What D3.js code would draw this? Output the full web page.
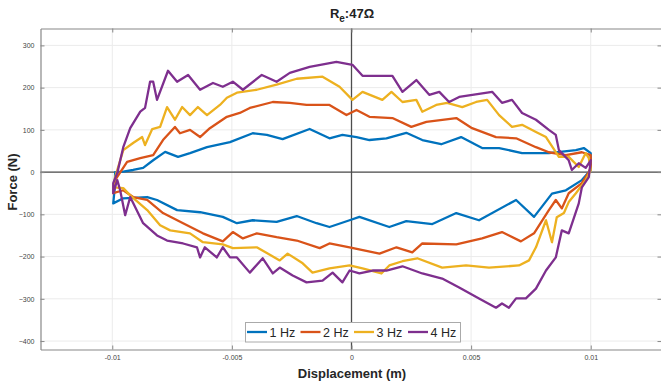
<!DOCTYPE html>
<html>
<head>
<meta charset="utf-8">
<script src="https://cdn.jsdelivr.net/npm/d3@7"></script>
<style>
  html, body { margin: 0; padding: 0; background: #fff; }
  svg { display: block; font-family: "Liberation Sans", Arial, sans-serif; }
</style>
</head>
<body>
<svg id="chart" width="661" height="386"></svg>
<script>
// ---- data (displacement in m, force in N) ----
const seriesNames = ["1 Hz", "2 Hz", "3 Hz", "4 Hz"];
const seriesColors = ["#0072BD", "#D95319", "#EDB120", "#7E2F8E"];
const xTicks = [-0.01, -0.005, 0, 0.005, 0.01];
const xTickLabels = ["-0.01", "-0.005", "0", "0.005", "0.01"];
const yTicks = [-400, -300, -200, -100, 0, 100, 200, 300];

const loop1Hz = [
  [-0.00988,0],[-0.00954,1],[-0.00913,5],[-0.00871,10],[-0.00829,28],[-0.00779,48],[-0.00725,36],[-0.00675,45],
  [-0.00604,59],[-0.00508,71],[-0.00413,92],[-0.00354,88],[-0.00288,78],[-0.00175,102],[-0.00092,80],[-0.00038,88],
  [0.00021,83],[0.00075,76],[0.00146,80],[0.00229,93],[0.00296,76],[0.00375,66],[0.00458,83],[0.00546,57],
  [0.00617,57],[0.00713,45],[0.00825,45],[0.00938,52],[0.00971,57],[0.01,45],[0.01,33],
  [0.01,5],[0.00963,-19],[0.00896,-43],[0.00838,-51],[0.00763,-106],[0.00688,-66],[0.00533,-114],[0.00438,-97],
  [0.00338,-123],[0.00229,-116],[0.00158,-130],[0.00033,-106],[-0.00008,-114],[-0.00092,-130],[-0.00146,-121],
  [-0.00229,-104],[-0.00313,-118],[-0.00413,-114],[-0.00479,-121],[-0.00538,-106],[-0.00633,-95],[-0.00729,-90],
  [-0.00813,-66],[-0.00854,-59],[-0.00954,-62],[-0.00996,-74],[-0.0099,-40],[-0.00988,0]
];
const loop2Hz = [
  [-0.00988,-19],[-0.00938,24],[-0.00883,33],[-0.00829,40],[-0.00788,76],[-0.00738,107],[-0.00717,92],[-0.00675,100],
  [-0.00633,83],[-0.00592,104],[-0.00521,131],[-0.00467,140],[-0.00425,152],[-0.00329,166],[-0.00258,164],
  [-0.00188,159],[-0.00092,159],[-0.00021,135],[0.00021,147],[0.00075,131],[0.00171,128],[0.0025,107],[0.00313,119],
  [0.00438,128],[0.00504,104],[0.00604,83],[0.00688,80],[0.00771,59],[0.00825,47],[0.00896,40],[0.00963,47],
  [0.01,40],[0.01,12],
  [0.00992,0],[0.00963,-26],[0.00908,-50],[0.00879,-86],[0.00854,-66],[0.00825,-90],[0.00763,-145],[0.00708,-164],
  [0.00629,-142],[0.00546,-157],[0.00438,-171],[0.00296,-169],[0.00254,-190],[0.00188,-178],[0.00117,-193],
  [-0.00008,-178],[-0.00092,-169],[-0.00133,-180],[-0.00229,-162],[-0.00313,-154],[-0.00396,-145],[-0.00454,-157],
  [-0.00496,-142],[-0.00538,-164],[-0.00621,-145],[-0.00704,-121],[-0.00788,-97],[-0.00854,-66],[-0.00913,-59],
  [-0.00954,-43],[-0.00996,-50],[-0.00988,-19]
];
const loop3Hz = [
  [-0.00988,-12],[-0.00954,52],[-0.00913,69],[-0.00875,83],[-0.00863,64],[-0.00833,102],[-0.008,107],[-0.00771,154],
  [-0.00738,124],[-0.00708,154],[-0.00675,135],[-0.00642,154],[-0.00604,135],[-0.0055,159],[-0.00521,176],
  [-0.00479,188],[-0.00396,195],[-0.00313,207],[-0.00229,221],[-0.00121,226],[-0.0005,202],[0.00004,171],
  [0.00046,190],[0.00129,171],[0.00167,190],[0.00213,166],[0.00271,171],[0.00296,143],[0.00354,159],[0.004,164],
  [0.00463,154],[0.00521,166],[0.00567,171],[0.00617,135],[0.00671,107],[0.00713,112],[0.00771,95],[0.00813,83],
  [0.00867,36],[0.00908,36],[0.0095,12],[0.00979,45],[0.00992,33],
  [0.01,5],[0.00979,-19],[0.00938,-50],[0.00908,-71],[0.00888,-97],[0.00858,-107],[0.00838,-166],[0.00813,-114],
  [0.00771,-178],[0.00742,-209],[0.007,-221],[0.00575,-226],[0.00479,-221],[0.00379,-226],[0.00275,-204],
  [0.00213,-211],[0.00158,-221],[0.00125,-240],[0.00046,-228],[-0.00008,-221],[-0.00092,-228],[-0.00163,-238],
  [-0.00204,-216],[-0.00267,-193],[-0.003,-209],[-0.00396,-178],[-0.00496,-180],[-0.00538,-171],[-0.00621,-166],
  [-0.00675,-145],[-0.00758,-138],[-0.008,-126],[-0.00854,-90],[-0.00925,-55],[-0.00954,-38],[-0.00996,-36],
  [-0.00988,-12]
];
const loop4Hz = [
  [-0.00996,-26],[-0.00979,-2],[-0.00954,59],[-0.00925,104],[-0.00883,143],[-0.00863,152],[-0.00842,214],
  [-0.00829,214],[-0.00813,171],[-0.00767,240],[-0.00729,214],[-0.00683,230],[-0.00633,195],[-0.00579,211],
  [-0.00538,202],[-0.00496,214],[-0.00454,195],[-0.00375,230],[-0.00313,214],[-0.00258,235],[-0.00175,249],
  [-0.00063,261],[0.00004,254],[0.00046,228],[0.00171,228],[0.00213,190],[0.00271,218],[0.00325,183],[0.00367,190],
  [0.00408,166],[0.0045,178],[0.00588,190],[0.00629,164],[0.00671,171],[0.00713,140],[0.00771,124],[0.00825,100],
  [0.00854,88],[0.00867,52],[0.00908,28],[0.00921,5],[0.0095,21],[0.00979,10],[0.01,28],
  [0.00992,-12],[0.00963,-36],[0.0095,-74],[0.00908,-145],[0.00879,-138],[0.00854,-202],[0.00813,-233],
  [0.00771,-276],[0.00729,-299],[0.00688,-299],[0.00658,-321],[0.00629,-311],[0.00604,-321],[0.00533,-299],
  [0.0045,-273],[0.00379,-252],[0.00296,-240],[0.00213,-223],[0.00146,-233],[0.00088,-233],[0.00033,-240],
  [-0.00008,-233],[-0.00038,-261],[-0.00079,-238],[-0.00121,-257],[-0.00188,-261],[-0.00246,-245],[-0.003,-226],
  [-0.00329,-240],[-0.00371,-204],[-0.00425,-238],[-0.00479,-202],[-0.00508,-202],[-0.00538,-178],[-0.00563,-202],
  [-0.00613,-178],[-0.00633,-202],[-0.00646,-178],[-0.00704,-169],[-0.00771,-162],[-0.00813,-150],[-0.00871,-121],
  [-0.00925,-59],[-0.00946,-102],[-0.00967,-43],[-0.00979,-19],[-0.00996,-50],[-0.00996,-26]
];
const loops = [loop1Hz, loop2Hz, loop3Hz, loop4Hz];

// ---- layout ----
const svg = d3.select("#chart");
const pL = 40.5, pR = 662.5, pT = 28.5, pB = 349.5;
const x = d3.scaleLinear().domain([-0.013, 0.013]).range([pL, pR]);
const y = d3.scaleLinear().domain([-420, 340]).range([pB, pT]);

// grid
const grid = svg.append("g");
grid.selectAll(".gx").data(xTicks).enter().append("line")
  .attr("x1", d => x(d)).attr("x2", d => x(d)).attr("y1", pT).attr("y2", pB)
  .attr("stroke", "#ebebeb").attr("stroke-width", 1);
grid.selectAll(".gy").data(yTicks).enter().append("line")
  .attr("x1", pL).attr("x2", pR).attr("y1", d => y(d)).attr("y2", d => y(d))
  .attr("stroke", "#ebebeb").attr("stroke-width", 1);

// zero lines
svg.append("line").attr("x1", x(0)).attr("x2", x(0)).attr("y1", pT).attr("y2", pB)
  .attr("stroke", "#4d4d4d").attr("stroke-width", 1.3);
svg.append("line").attr("x1", pL).attr("x2", pR).attr("y1", y(0)).attr("y2", y(0))
  .attr("stroke", "#4d4d4d").attr("stroke-width", 1.3);

// axes
const xAxis = d3.axisBottom(x).tickValues(xTicks).tickFormat((d, i) => xTickLabels[i]).tickSizeInner(-4).tickSizeOuter(0).tickPadding(6);
const yAxis = d3.axisLeft(y).tickValues(yTicks).tickFormat(d3.format("d")).tickSizeInner(-4).tickSizeOuter(0).tickPadding(6);
const gx = svg.append("g").attr("transform", `translate(0,${pB})`).call(xAxis);
const gy = svg.append("g").attr("transform", `translate(${pL},0)`).call(yAxis);
const gxTop = svg.append("g").attr("transform", `translate(0,${pT})`).call(d3.axisTop(x).tickValues(xTicks).tickFormat("").tickSizeInner(-4).tickSizeOuter(0));
const gyRight = svg.append("g").attr("transform", `translate(${pR - 1},0)`).call(d3.axisRight(y).tickValues(yTicks).tickFormat("").tickSizeInner(-4).tickSizeOuter(0));
[gx, gy, gxTop, gyRight].forEach(g => {
  g.select(".domain").attr("stroke", "#888").attr("stroke-width", 1.2);
  g.selectAll(".tick line").attr("stroke", "#888");
  g.selectAll(".tick text").attr("fill", "#444").attr("font-size", "7px");
});

// loops
const line = d3.line().x(d => x(d[0])).y(d => y(d[1]));
svg.append("clipPath").attr("id", "clip").append("rect")
  .attr("x", pL).attr("y", pT).attr("width", pR - pL).attr("height", pB - pT);
const plot = svg.append("g").attr("clip-path", "url(#clip)");
loops.forEach((pts, i) => {
  plot.append("path").datum(pts).attr("d", line)
    .attr("fill", "none").attr("stroke", seriesColors[i]).attr("stroke-width", 2.3)
    .attr("stroke-linejoin", "round").attr("stroke-linecap", "round");
});

// title
const title = svg.append("text").attr("x", 352).attr("y", 18).attr("text-anchor", "middle")
  .attr("font-weight", "bold").attr("font-size", "13px").attr("fill", "#222");
title.append("tspan").text("R");
title.append("tspan").attr("font-size", "10px").attr("dy", 4).text("e");
title.append("tspan").attr("dy", -4).text(":47Ω");

// axis labels
svg.append("text").attr("x", 352).attr("y", 378).attr("text-anchor", "middle")
  .attr("font-weight", "bold").attr("font-size", "13px").attr("fill", "#262626").text("Displacement (m)");
svg.append("text").attr("transform", "translate(17,182) rotate(-90)").attr("text-anchor", "middle")
  .attr("font-weight", "bold").attr("font-size", "13px").attr("fill", "#262626").text("Force (N)");

// legend
const legend = svg.append("g");
legend.append("rect").attr("x", 245.5).attr("y", 322.5).attr("width", 215).attr("height", 19.5)
  .attr("fill", "#fff").attr("stroke", "#aaa").attr("stroke-width", 1);
const itemX = [247, 300.5, 354, 408];
seriesNames.forEach((name, i) => {
  legend.append("line").attr("x1", itemX[i]).attr("x2", itemX[i] + 20).attr("y1", 332).attr("y2", 332)
    .attr("stroke", seriesColors[i]).attr("stroke-width", 2.3);
  legend.append("text").attr("x", itemX[i] + 22.5).attr("y", 336.5).attr("font-size", "12.5px")
    .attr("fill", "#262626").text(name);
});
</script>
</body>
</html>
